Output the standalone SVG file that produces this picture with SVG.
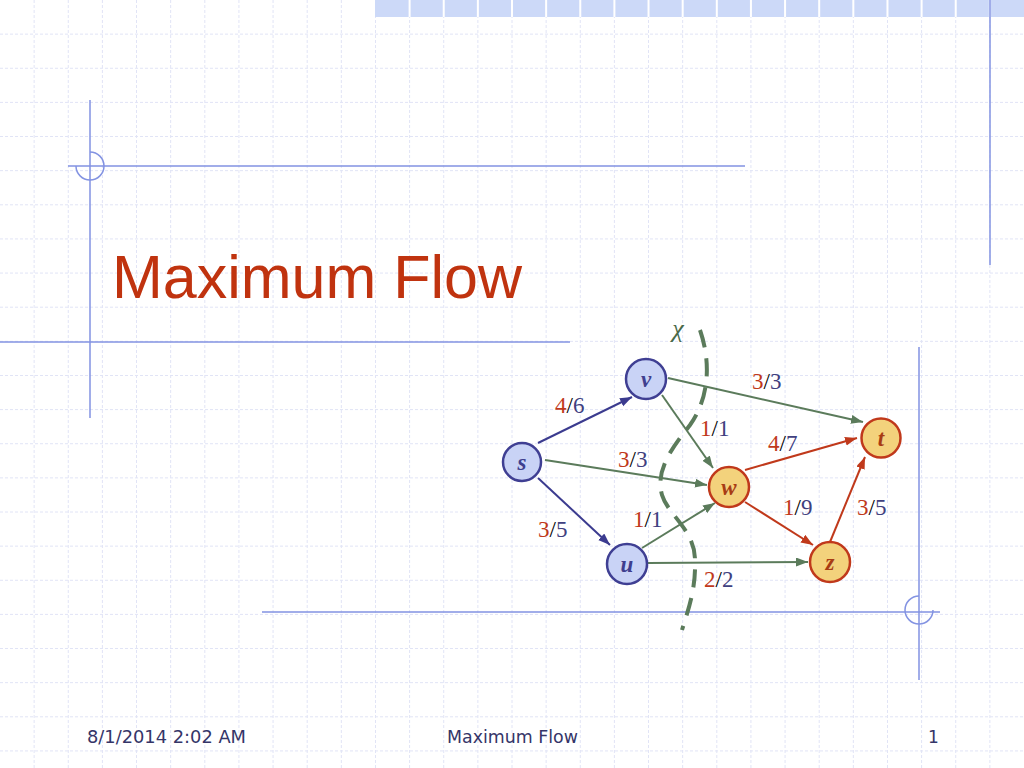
<svg xmlns="http://www.w3.org/2000/svg" width="1024" height="768" viewBox="0 0 1024 768">
<style>
.grid{stroke:#e1e4f6;stroke-width:1;stroke-dasharray:3 2;fill:none}
.deco{stroke:#8393e2;stroke-width:1.5;fill:none}
.node-b{fill:#c9d3f6;stroke:#3f3f93;stroke-width:2.5}
.node-o{fill:#f3d27c;stroke:#c0391b;stroke-width:2.5}
.nl{font-family:"Liberation Serif",serif;font-style:italic;font-weight:bold;font-size:23px;text-anchor:middle}
.nb{fill:#3f3f8f}
.no{fill:#a83c14}
.eb{stroke:#3b3b8f;stroke-width:2;fill:none;marker-end:url(#ab)}
.eg{stroke:#5b7b5b;stroke-width:2;fill:none;marker-end:url(#ag)}
.er{stroke:#c0391b;stroke-width:2;fill:none;marker-end:url(#ar)}
.lbl{font-family:"Liberation Serif",serif;font-size:23px}
.n{fill:#c0391b}
.sl{fill:#000}
.d{fill:#404080}
.foot{font-family:"DejaVu Sans","Liberation Sans",sans-serif;font-size:17px;fill:#353568}
</style>
<defs>
<marker id="ab" markerUnits="userSpaceOnUse" markerWidth="13" markerHeight="10" refX="12" refY="4.5" orient="auto"><path d="M0,0 L12,4.5 L0,9 z" fill="#3b3b8f"/></marker>
<marker id="ag" markerUnits="userSpaceOnUse" markerWidth="13" markerHeight="10" refX="12" refY="4.5" orient="auto"><path d="M0,0 L12,4.5 L0,9 z" fill="#5b7b5b"/></marker>
<marker id="ar" markerUnits="userSpaceOnUse" markerWidth="13" markerHeight="10" refX="12" refY="4.5" orient="auto"><path d="M0,0 L12,4.5 L0,9 z" fill="#c0391b"/></marker>
</defs>
<rect width="1024" height="768" fill="#fff"/>
<g id="grid">
<path class="grid" d="M34.13,0V768 M68.27,0V768 M102.4,0V768 M136.53,0V768 M170.67,0V768 M204.8,0V768 M238.93,0V768 M273.07,0V768 M307.2,0V768 M341.33,0V768 M375.47,0V768 M409.6,0V768 M443.73,0V768 M477.87,0V768 M512,0V768 M546.13,0V768 M580.27,0V768 M614.4,0V768 M648.53,0V768 M682.67,0V768 M716.8,0V768 M750.93,0V768 M785.07,0V768 M819.2,0V768 M853.33,0V768 M887.47,0V768 M921.6,0V768 M955.73,0V768 M989.87,0V768 M0,34.13H1024 M0,68.27H1024 M0,102.4H1024 M0,136.53H1024 M0,170.67H1024 M0,204.8H1024 M0,238.93H1024 M0,273.07H1024 M0,307.2H1024 M0,341.33H1024 M0,375.47H1024 M0,409.6H1024 M0,443.73H1024 M0,477.87H1024 M0,512H1024 M0,546.13H1024 M0,580.27H1024 M0,614.4H1024 M0,648.53H1024 M0,682.67H1024 M0,716.8H1024 M0,750.93H1024"/>
</g>
<g id="topbar">
<rect x="375" y="0" width="649" height="17" fill="#ccd9f8"/>
<path stroke="#fff" stroke-width="2" d="M409.6,0V17 M443.73,0V17 M477.87,0V17 M512,0V17 M546.13,0V17 M580.27,0V17 M614.4,0V17 M648.53,0V17 M682.67,0V17 M716.8,0V17 M750.93,0V17 M785.07,0V17 M819.2,0V17 M853.33,0V17 M887.47,0V17 M921.6,0V17 M955.73,0V17 M989.87,0V17"/>
</g>
<g id="decor">
<path class="deco" d="M990,0V265"/>
<path class="deco" d="M90,100V418 M68,166H745"/>
<path class="deco" d="M90,152 A14,14 0 1 1 76,166"/>
<path class="deco" stroke-width="2" d="M0,342H570"/>
<path class="deco" d="M919,347V680 M262,612H940"/>
<path class="deco" d="M933,610 A14,14 0 1 1 919,596"/>
</g>
<text x="112" y="298" font-family="Liberation Sans,Arial,sans-serif" font-size="61" fill="#c0330f">Maximum Flow</text>
<g id="cut">
<path d="M700,330 C712,365 708,400 690,425 C672,448 655,470 662,495 C668,515 695,530 695,560 C696,590 688,610 682,630" stroke="#5b7b5b" stroke-width="4" fill="none" stroke-dasharray="18 11"/>
<text x="678" y="337" font-family="Liberation Serif,serif" font-style="italic" font-size="26" fill="#4a6a4a" text-anchor="middle">χ</text>
</g>
<g id="connectors">
<path class="eb" d="M538,443 L632,397"/>
<path class="eg" d="M545,460 L707,485"/>
<path class="eb" d="M538,478 L610,545"/>
<path class="eg" d="M642,548 L715,503"/>
<path class="eg" d="M648,563 L808,562"/>
<path class="eg" d="M668,378 L863,422"/>
<path class="eg" d="M662,395 L713,468"/>
<path class="er" d="M745,470 L857,438"/>
<path class="er" d="M745,502 L813,545"/>
<path class="er" d="M830,542 L865,457"/>
<text class="lbl" x="555" y="413"><tspan class="n">4</tspan><tspan class="sl">/</tspan><tspan class="d">6</tspan></text>
<text class="lbl" x="618" y="467"><tspan class="n">3</tspan><tspan class="sl">/</tspan><tspan class="d">3</tspan></text>
<text class="lbl" x="538" y="537"><tspan class="n">3</tspan><tspan class="sl">/</tspan><tspan class="d">5</tspan></text>
<text class="lbl" x="633" y="527"><tspan class="n">1</tspan><tspan class="sl">/</tspan><tspan class="d">1</tspan></text>
<text class="lbl" x="752" y="389"><tspan class="n">3</tspan><tspan class="sl">/</tspan><tspan class="d">3</tspan></text>
<text class="lbl" x="700" y="436"><tspan class="n">1</tspan><tspan class="sl">/</tspan><tspan class="d">1</tspan></text>
<text class="lbl" x="768" y="451"><tspan class="n">4</tspan><tspan class="sl">/</tspan><tspan class="d">7</tspan></text>
<text class="lbl" x="783" y="515"><tspan class="n">1</tspan><tspan class="sl">/</tspan><tspan class="d">9</tspan></text>
<text class="lbl" x="857" y="515"><tspan class="n">3</tspan><tspan class="sl">/</tspan><tspan class="d">5</tspan></text>
<text class="lbl" x="704" y="587"><tspan class="n">2</tspan><tspan class="sl">/</tspan><tspan class="d">2</tspan></text>
</g>
<g id="s"><circle class="node-b" cx="522" cy="462" r="19" stroke-width="4"/><text class="nl nb" x="522" y="470">s</text></g>
<g id="v"><circle class="node-b" cx="646" cy="379" r="20"/><text class="nl nb" x="646" y="387">v</text></g>
<g id="u"><circle class="node-b" cx="627" cy="564" r="20"/><text class="nl nb" x="627" y="572">u</text></g>
<g id="w"><circle class="node-o" cx="729" cy="487" r="20"/><text class="nl no" x="729" y="495">w</text></g>
<g id="t"><circle class="node-o" cx="881" cy="438" r="19.5" stroke-width="4.5"/><text class="nl no" x="881" y="446">t</text></g>
<g id="z"><circle class="node-o" cx="830" cy="562" r="20"/><text class="nl no" x="830" y="570">z</text></g>
<g id="footer">
<text class="foot" x="87" y="743" textLength="159" lengthAdjust="spacingAndGlyphs">8/1/2014 2:02 AM</text>
<text class="foot" x="447" y="743" textLength="131" lengthAdjust="spacingAndGlyphs">Maximum Flow</text>
<text class="foot" x="928" y="743">1</text>
</g>
</svg>
